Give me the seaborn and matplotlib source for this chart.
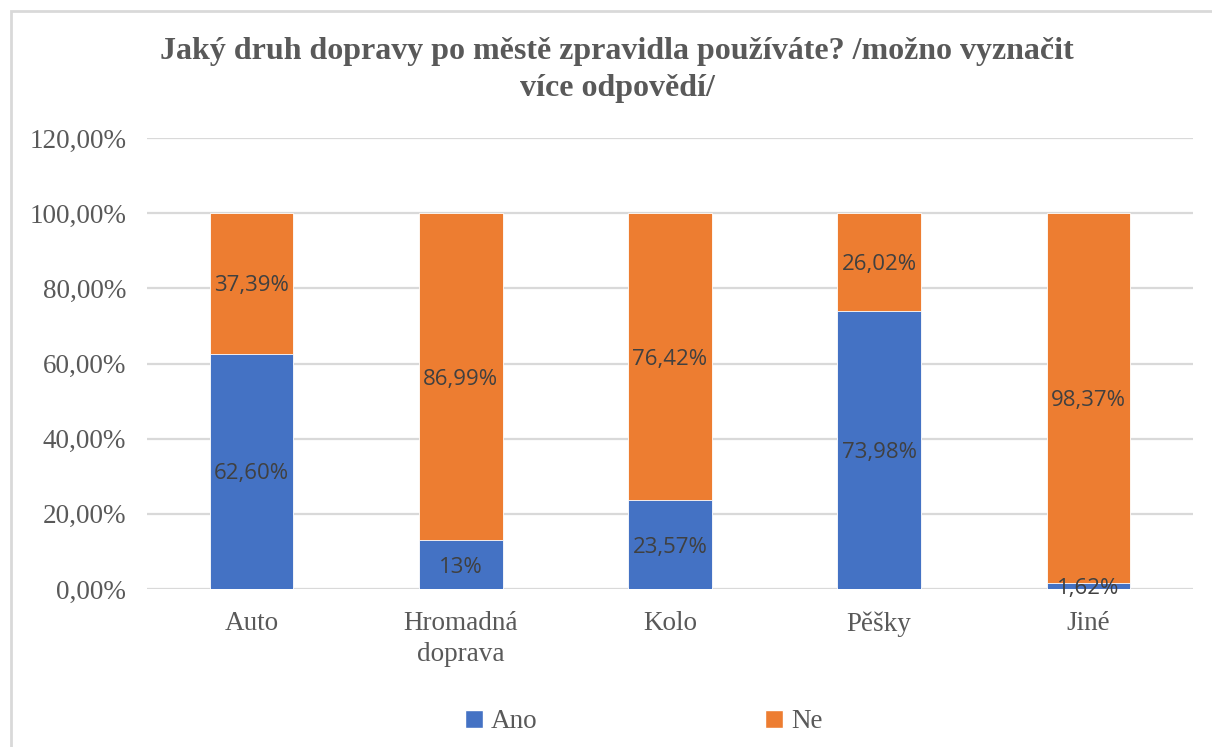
import matplotlib
matplotlib.use("Agg")
import matplotlib.pyplot as plt
import seaborn as sns
import pandas as pd
from matplotlib.patches import Patch, Rectangle

categories = ["Auto", "Hromadná\ndoprava", "Kolo", "Pěšky", "Jiné"]
ano = [62.60, 13.00, 23.57, 73.98, 1.62]
ne = [37.39, 86.99, 76.42, 26.02, 98.37]
ano_labels = ["62,60%", "13%", "23,57%", "73,98%", "1,62%"]
ne_labels = ["37,39%", "86,99%", "76,42%", "26,02%", "98,37%"]
yticks = [0, 20, 40, 60, 80, 100, 120]
ytick_labels = ["0,00%", "20,00%", "40,00%", "60,00%", "80,00%", "100,00%", "120,00%"]
title = "Jaký druh dopravy po městě zpravidla používáte? /možno vyznačit\nvíce odpovědí/"
series_names = ["Ano", "Ne"]

BLUE = "#4472C4"
ORANGE = "#ED7D31"
GRID = "#D9D9D9"
TXT = "#595959"
LBL = "#404040"

sns.set_theme(style="white")
plt.rcParams["font.family"] = ["Liberation Serif", "DejaVu Serif"]

df = pd.DataFrame({"cat": categories, "ano": ano, "ne": ne})
df["total"] = df["ano"] + df["ne"]

fig = plt.figure(figsize=(12.12, 7.47), dpi=100)
ax = fig.add_axes([147 / 1212, 1 - 589 / 747, (1193 - 147) / 1212, (589 - 138) / 747])

# outer chart frame (partially visible)
fig.patches.append(Rectangle((11 / 1212, -0.1), 1.2, 1 - 11 / 747 + 0.1,
                             transform=fig.transFigure, fill=False,
                             edgecolor="#D9D9D9", linewidth=2, zorder=0))

sns.barplot(data=df, x="cat", y="total", color=ORANGE, width=0.4, ax=ax,
            saturation=1, edgecolor="white", linewidth=0.6, zorder=3)
sns.barplot(data=df, x="cat", y="ano", color=BLUE, width=0.4, ax=ax,
            saturation=1, edgecolor="white", linewidth=0.6, zorder=3)

for i, (a, n) in enumerate(zip(ano, ne)):
    ax.text(i, a / 2, ano_labels[i], ha="center", va="center_baseline", fontsize=16,
            color=LBL, family=["Open Sans", "DejaVu Sans"], zorder=5)
    ax.text(i, a + n / 2, ne_labels[i], ha="center", va="center_baseline", fontsize=16,
            color=LBL, family=["Open Sans", "DejaVu Sans"], zorder=5)

ax.set_xlim(-0.5, 4.5)
ax.set_ylim(0, 120)
ax.set_yticks(yticks)
ax.set_yticklabels(ytick_labels, fontsize=19.5, color=TXT)
ax.tick_params(axis="x", labelsize=19.5, labelcolor=TXT, length=0, pad=16)
ax.tick_params(axis="y", length=0, pad=15)
for lab in ax.get_xticklabels():
    lab.set_linespacing(1.3)
ax.set_xlabel("")
ax.set_ylabel("")
for s in ax.spines.values():
    s.set_visible(False)
ax.yaxis.grid(True, color=GRID, linewidth=1.6, zorder=0)
ax.set_axisbelow(True)

fig.text(617 / 1212, 1 - 70 / 747, title, ha="center", va="center",
         fontsize=23, fontweight="bold", color=TXT, linespacing=1.38)

handles = [Patch(facecolor=BLUE, edgecolor="white"), Patch(facecolor=ORANGE, edgecolor="white")]
fig.legend(handles, series_names, loc="center", bbox_to_anchor=(644 / 1212, 1 - 722 / 747),
           ncol=2, frameon=False, fontsize=19.5, handlelength=0.65, handleheight=0.65,
           handletextpad=0.3, columnspacing=8.4, labelcolor=TXT)

fig.savefig("out.png", dpi=100)
